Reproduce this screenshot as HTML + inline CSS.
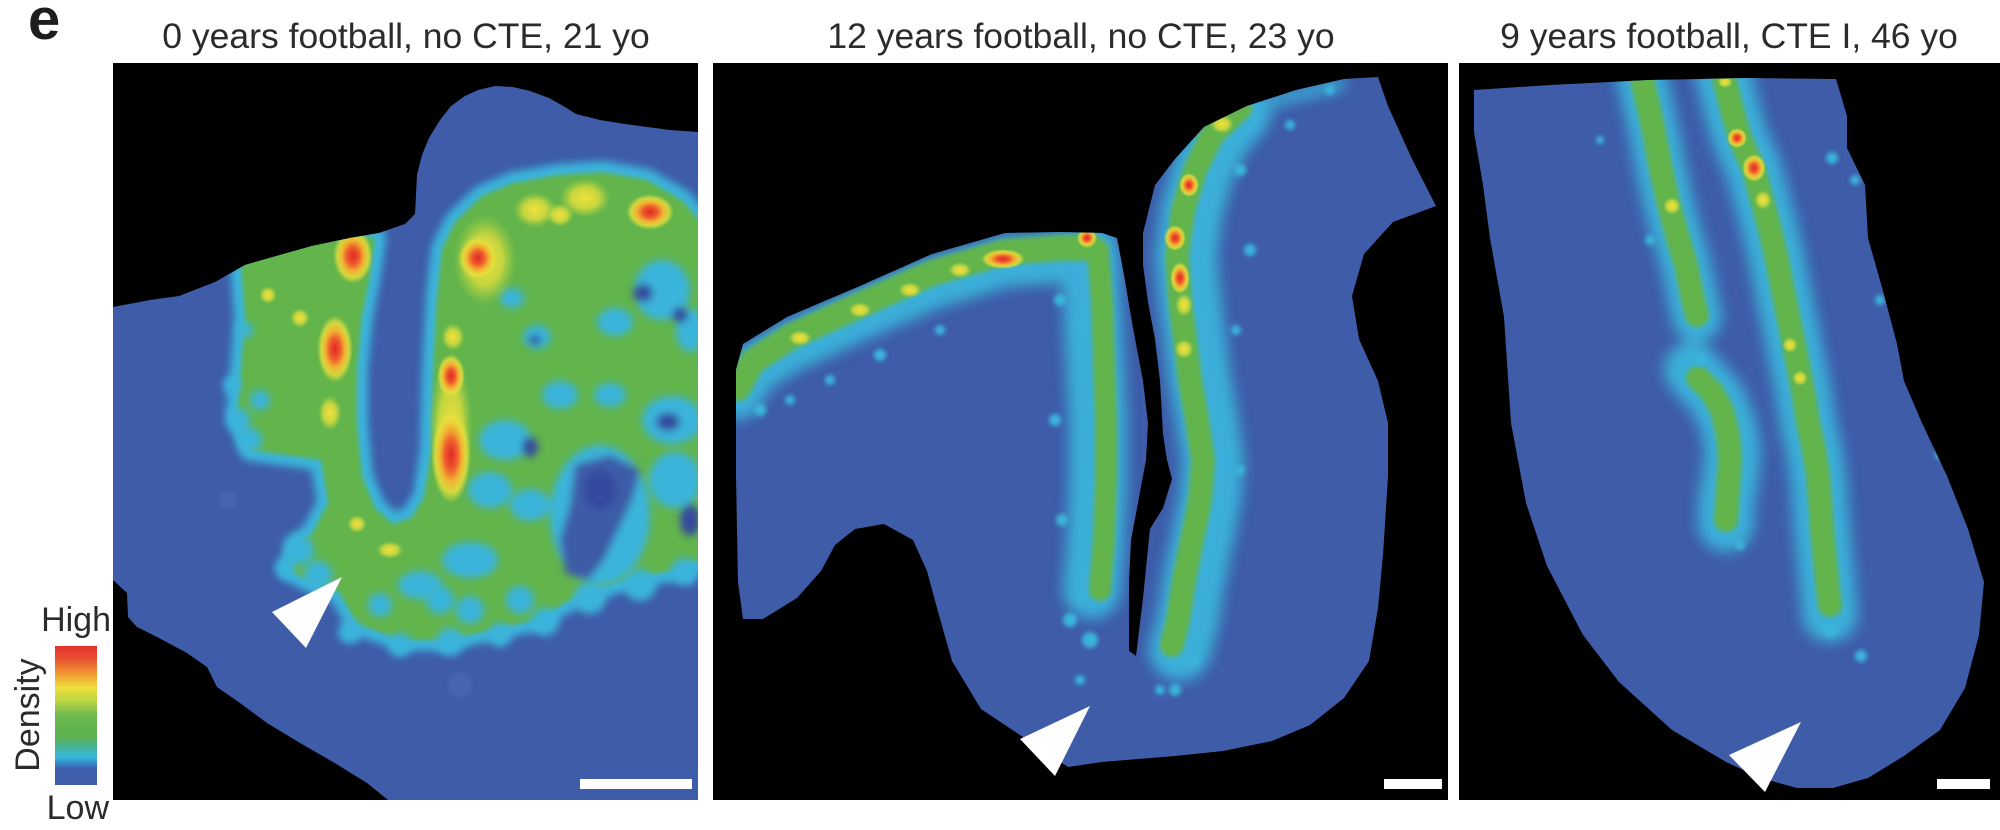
<!DOCTYPE html>
<html>
<head>
<meta charset="utf-8">
<style>
html,body{margin:0;padding:0;background:#fff;}
svg{display:block;}
text{font-family:"Liberation Sans",Arial,sans-serif;fill:#2b2b2b;}
</style>
</head>
<body>
<svg width="2000" height="830" viewBox="0 0 2000 830" xmlns="http://www.w3.org/2000/svg">
<defs>
  <filter id="b2" x="-20%" y="-20%" width="140%" height="140%"><feGaussianBlur stdDeviation="2"/></filter>
  <filter id="b4" x="-20%" y="-20%" width="140%" height="140%"><feGaussianBlur stdDeviation="4"/></filter>
  <filter id="b7" x="-20%" y="-20%" width="140%" height="140%"><feGaussianBlur stdDeviation="7"/></filter>
  <radialGradient id="hot">
    <stop offset="0" stop-color="#e02a26"/>
    <stop offset="0.3" stop-color="#ee5a2c"/>
    <stop offset="0.55" stop-color="#f2b232"/>
    <stop offset="0.78" stop-color="#e9e03c" stop-opacity="0.8"/>
    <stop offset="1" stop-color="#c8dc40" stop-opacity="0"/>
  </radialGradient>
  <radialGradient id="warm">
    <stop offset="0" stop-color="#f2e23a"/>
    <stop offset="0.55" stop-color="#e6e03c" stop-opacity="0.75"/>
    <stop offset="1" stop-color="#a8d444" stop-opacity="0"/>
  </radialGradient>
  <linearGradient id="cbar" x1="0" y1="0" x2="0" y2="1">
    <stop offset="0" stop-color="#e4302a"/>
    <stop offset="0.1" stop-color="#ea5530"/>
    <stop offset="0.2" stop-color="#f09a34"/>
    <stop offset="0.3" stop-color="#f0e03a"/>
    <stop offset="0.4" stop-color="#b8d444"/>
    <stop offset="0.5" stop-color="#6cb84c"/>
    <stop offset="0.65" stop-color="#5cb04e"/>
    <stop offset="0.8" stop-color="#34b8e0"/>
    <stop offset="0.88" stop-color="#3e62b0"/>
    <stop offset="1" stop-color="#3e5ca8"/>
  </linearGradient>

  <path id="t1" d="M113,307 L150,300 L179,296 L215,282 L245,265 L280,255 L312,246 L350,238 L379,233 L405,224 L415,214 L416,195 L417,175 L422,155 L429,138 L440,120 L451,106 L465,96 L478,90 L495,86 L513,87 L530,91 L549,98 L565,107 L576,114 L600,120 L625,124 L670,130 L698,132 L698,800 L388,800 L367,783 L333,762 L300,743 L267,723 L240,703 L217,687 L207,667 L187,653 L157,637 L137,627 L128,617 L127,593 L113,580 Z"/>
  <path id="t2" d="M736,370 L743,344 L787,317 L860,286 L932,254 L1005,233 L1060,232 L1102,233 L1117,238 L1124,275 L1133,328 L1143,381 L1148,423 L1146,460 L1138,503 L1131,540 L1129,582 L1129,651 L1136,656 L1143,598 L1150,529 L1163,508 L1172,479 L1167,460 L1163,434 L1160,381 L1155,339 L1148,302 L1143,265 L1143,233 L1155,185 L1175,159 L1204,127 L1247,106 L1296,90 L1344,79 L1378,77 L1388,106 L1412,159 L1436,206 L1393,222 L1364,254 L1352,296 L1359,339 L1378,381 L1388,423 L1388,476 L1383,555 L1378,608 L1369,661 L1344,698 L1310,725 L1272,741 L1223,751 L1175,756 L1102,762 L1068,767 L1029,741 L981,709 L952,661 L937,608 L927,571 L913,540 L884,524 L855,529 L835,545 L821,571 L797,598 L763,619 L743,619 L738,582 L736,476 Z"/>
  <path id="t3" d="M1474,90 L1550,85 L1650,80 L1750,78 L1836,79 L1847,116 L1847,148 L1865,185 L1868,238 L1883,291 L1897,344 L1904,381 L1922,423 L1947,476 L1968,529 L1984,582 L1979,635 L1965,688 L1940,730 L1904,756 L1868,778 L1833,788 L1797,788 L1761,778 L1726,762 L1672,730 L1619,682 L1583,635 L1547,566 L1526,503 L1511,423 L1504,317 L1490,238 L1483,185 L1474,132 Z"/>
  <path id="g1" d="M241,265 L268,254 L312,241 L348,235 L375,238 L370,275 L362,317 L357,370 L357,423 L362,476 L375,508 L393,524 L411,518 L424,497 L431,450 L433,370 L437,296 L442,249 L455,222 L482,196 L513,183 L558,175 L603,172 L647,180 L683,201 L700,222 L700,561 L670,571 L625,580 L580,594 L536,620 L491,630 L446,640 L402,640 L357,624 L339,592 L312,582 L290,571 L295,545 L312,534 L328,503 L321,460 L250,450 L237,413 L241,370 L245,317 Z"/>
  <clipPath id="c1"><use href="#t1"/></clipPath>
  <clipPath id="c2"><use href="#t2"/></clipPath>
  <clipPath id="c3"><use href="#t3"/></clipPath>
</defs>

<rect width="2000" height="830" fill="#fff"/>

<!-- labels -->
<text x="28" y="39" font-size="58" font-weight="bold" style="fill:#1e1e1e">e</text>
<text x="406" y="48" font-size="35.5" text-anchor="middle">0 years football, no CTE, 21 yo</text>
<text x="1081" y="48" font-size="35.5" text-anchor="middle">12 years football, no CTE, 23 yo</text>
<text x="1729" y="48" font-size="35.5" text-anchor="middle">9 years football, CTE I, 46 yo</text>

<!-- colorbar -->
<text x="111" y="631" font-size="34" text-anchor="end">High</text>
<text x="109" y="819" font-size="34" text-anchor="end">Low</text>
<text transform="translate(39,715) rotate(-90)" font-size="34" text-anchor="middle">Density</text>
<rect x="55" y="646" width="42" height="139" fill="url(#cbar)"/>

<!-- ============ PANEL 1 ============ -->
<rect x="113" y="63" width="585" height="737" fill="#000"/>
<use href="#t1" fill="#3e5ca8"/>
<g clip-path="url(#c1)">
  <use href="#g1" fill="#3ab4dc" stroke="#3ab4dc" stroke-width="22" stroke-linejoin="round" filter="url(#b4)"/>
  <use href="#g1" fill="#62b44c" filter="url(#b2)"/>
  <!-- cyan blobs at edges -->
  <g filter="url(#b4)" fill="#3ab4dc">
    <circle cx="238" cy="420" r="12"/><circle cx="250" cy="440" r="12"/><circle cx="232" cy="385" r="9"/>
    <circle cx="245" cy="330" r="8"/><circle cx="260" cy="400" r="10"/>
    <circle cx="300" cy="550" r="14"/><circle cx="318" cy="575" r="14"/><circle cx="285" cy="568" r="10"/>
    <circle cx="350" cy="632" r="12"/><circle cx="400" cy="645" r="12"/><circle cx="450" cy="642" r="14"/>
    <circle cx="500" cy="635" r="12"/><circle cx="545" cy="622" r="14"/><circle cx="590" cy="598" r="16"/>
    <circle cx="640" cy="585" r="16"/><circle cx="685" cy="572" r="14"/>
    <circle cx="440" cy="600" r="14"/><circle cx="470" cy="610" r="14"/><circle cx="520" cy="600" r="14"/>
    <circle cx="380" cy="605" r="12"/>
  </g>
  <!-- inner cyan / dark patches in right region -->
  <g filter="url(#b4)">
    <ellipse cx="512" cy="298" rx="12" ry="10" fill="#3ab4dc"/>
    <ellipse cx="537" cy="337" rx="14" ry="12" fill="#3ab4dc"/>
    <ellipse cx="615" cy="322" rx="18" ry="14" fill="#3ab4dc"/>
    <ellipse cx="662" cy="290" rx="28" ry="30" fill="#3ab4dc"/>
    <ellipse cx="690" cy="330" rx="14" ry="22" fill="#3ab4dc"/>
    <ellipse cx="505" cy="440" rx="26" ry="20" fill="#3ab4dc"/>
    <ellipse cx="490" cy="490" rx="22" ry="18" fill="#3ab4dc"/>
    <ellipse cx="530" cy="505" rx="20" ry="16" fill="#3ab4dc"/>
    <ellipse cx="560" cy="395" rx="18" ry="14" fill="#3ab4dc"/>
    <ellipse cx="610" cy="395" rx="16" ry="12" fill="#3ab4dc"/>
    <ellipse cx="672" cy="420" rx="30" ry="24" fill="#3ab4dc"/>
    <ellipse cx="675" cy="480" rx="26" ry="28" fill="#3ab4dc"/>
    <ellipse cx="600" cy="515" rx="50" ry="70" fill="#3ab4dc"/>
    <ellipse cx="470" cy="560" rx="28" ry="18" fill="#3ab4dc"/>
    <ellipse cx="420" cy="585" rx="22" ry="14" fill="#3ab4dc"/>
    <path d="M575,465 L610,455 L640,470 L632,500 L618,530 L604,560 L588,580 L566,574 L560,540 L570,505 Z" fill="#3e5ca8"/>
    <ellipse cx="600" cy="490" rx="16" ry="20" fill="#34489e"/>
    <ellipse cx="643" cy="293" rx="10" ry="9" fill="#34489e"/>
    <ellipse cx="680" cy="315" rx="8" ry="8" fill="#34489e"/>
    <ellipse cx="668" cy="422" rx="12" ry="9" fill="#34489e"/>
    <ellipse cx="530" cy="447" rx="8" ry="10" fill="#34489e"/>
    <ellipse cx="690" cy="520" rx="10" ry="16" fill="#34489e"/>
    <ellipse cx="535" cy="340" rx="6" ry="5" fill="#34489e"/>
  </g>
  <!-- hotspots -->
  <ellipse cx="353" cy="256" rx="20" ry="28" fill="url(#hot)"/>
  <ellipse cx="335" cy="349" rx="18" ry="34" fill="url(#hot)"/>
  <ellipse cx="330" cy="413" rx="12" ry="18" fill="url(#warm)"/>
  <ellipse cx="451" cy="430" rx="22" ry="75" fill="url(#warm)"/>
  <ellipse cx="451" cy="376" rx="14" ry="22" fill="url(#hot)"/>
  <ellipse cx="451" cy="455" rx="20" ry="48" fill="url(#hot)"/>
  <ellipse cx="485" cy="260" rx="32" ry="46" fill="url(#warm)"/>
  <ellipse cx="478" cy="258" rx="20" ry="22" fill="url(#hot)"/>
  <ellipse cx="535" cy="210" rx="22" ry="18" fill="url(#warm)"/>
  <ellipse cx="585" cy="198" rx="26" ry="20" fill="url(#warm)"/>
  <ellipse cx="560" cy="215" rx="14" ry="12" fill="url(#warm)"/>
  <ellipse cx="650" cy="212" rx="24" ry="18" fill="url(#hot)"/>
  <ellipse cx="453" cy="337" rx="12" ry="14" fill="url(#warm)"/>
  <ellipse cx="357" cy="524" rx="10" ry="9" fill="url(#warm)"/>
  <ellipse cx="300" cy="318" rx="10" ry="10" fill="url(#warm)"/>
  <ellipse cx="268" cy="295" rx="9" ry="9" fill="url(#warm)"/>
  <ellipse cx="390" cy="550" rx="14" ry="9" fill="url(#warm)"/>
  <circle cx="460" cy="685" r="12" fill="#4666b0" filter="url(#b2)"/>
  <circle cx="228" cy="500" r="9" fill="#4666b0" filter="url(#b2)"/>
</g>
<polygon points="272,612 342,577 306,648" fill="#fff"/>
<rect x="580" y="779" width="112" height="10" fill="#fff"/>

<!-- ============ PANEL 2 ============ -->
<rect x="713" y="63" width="735" height="737" fill="#000"/>
<use href="#t2" fill="#3e5ca8"/>
<g clip-path="url(#c2)" fill="none" stroke-linecap="round" stroke-linejoin="round">
  <g stroke="#3ab4dc" filter="url(#b7)" opacity="0.95">
    <polyline points="738,395 752,370 790,347 860,315 932,284 1005,262 1060,258 1092,258" stroke-width="50"/>
    <polyline points="1090,252 1092,300 1095,360 1098,420 1098,480 1096,540 1092,590" stroke-width="58"/>
    <polyline points="1240,112 1220,135 1203,170 1192,210 1186,255 1190,300 1195,340 1200,380 1207,420 1213,460 1210,500 1202,540 1194,580 1188,620 1180,650" stroke-width="62"/>
    <polyline points="1260,104 1300,94 1340,84" stroke-width="12"/>
  </g>
  <g stroke="#62b44c" filter="url(#b2)">
    <polyline points="738,388 752,362 790,337 860,305 932,273 1005,252 1060,248 1092,248" stroke-width="26"/>
    <polyline points="1098,250 1102,300 1104,360 1106,420 1106,480 1104,540 1100,590" stroke-width="22"/>
    <polyline points="1240,108 1212,135 1195,170 1183,210 1177,255 1180,300 1185,340 1190,380 1197,420 1203,460 1200,500 1192,540 1184,580 1178,620 1172,645" stroke-width="24"/>
  </g>
</g>
<g clip-path="url(#c2)">
  <g fill="#3ab4dc" filter="url(#b2)">
    <circle cx="760" cy="410" r="6"/><circle cx="790" cy="400" r="5"/><circle cx="830" cy="380" r="5"/>
    <circle cx="880" cy="355" r="6"/><circle cx="940" cy="330" r="5"/><circle cx="1060" cy="300" r="6"/>
    <circle cx="1055" cy="420" r="6"/><circle cx="1062" cy="520" r="6"/><circle cx="1070" cy="620" r="7"/>
    <circle cx="1090" cy="640" r="8"/><circle cx="1080" cy="680" r="5"/>
    <circle cx="1240" cy="170" r="6"/><circle cx="1250" cy="250" r="6"/><circle cx="1236" cy="330" r="5"/>
    <circle cx="1240" cy="470" r="5"/><circle cx="1175" cy="690" r="6"/><circle cx="1195" cy="660" r="5"/>
    <circle cx="1160" cy="690" r="5"/><circle cx="1330" cy="90" r="5"/><circle cx="1290" cy="125" r="5"/>
  </g>
  <ellipse cx="1087" cy="238" rx="10" ry="10" fill="url(#hot)"/>
  <ellipse cx="1003" cy="259" rx="22" ry="10" fill="url(#hot)"/>
  <ellipse cx="960" cy="270" rx="12" ry="8" fill="url(#warm)"/>
  <ellipse cx="910" cy="290" rx="12" ry="8" fill="url(#warm)"/>
  <ellipse cx="860" cy="310" rx="12" ry="8" fill="url(#warm)"/>
  <ellipse cx="800" cy="338" rx="12" ry="8" fill="url(#warm)"/>
  <ellipse cx="1175" cy="238" rx="11" ry="13" fill="url(#hot)"/>
  <ellipse cx="1189" cy="185" rx="10" ry="12" fill="url(#hot)"/>
  <ellipse cx="1222" cy="124" rx="12" ry="10" fill="url(#warm)"/>
  <ellipse cx="1180" cy="278" rx="10" ry="16" fill="url(#hot)"/>
  <ellipse cx="1184" cy="305" rx="9" ry="12" fill="url(#warm)"/>
  <ellipse cx="1184" cy="349" rx="10" ry="10" fill="url(#warm)"/>
</g>
<polygon points="1020,739 1090,706 1055,776" fill="#fff"/>
<rect x="1384" y="779" width="58" height="10" fill="#fff"/>

<!-- ============ PANEL 3 ============ -->
<rect x="1459" y="63" width="541" height="737" fill="#000"/>
<use href="#t3" fill="#3e5ca8"/>
<g clip-path="url(#c3)" fill="none" stroke-linecap="round" stroke-linejoin="round">
  <g stroke="#3ab4dc" filter="url(#b7)" opacity="0.95">
    <polyline points="1640,70 1648,105 1654,132 1660,165 1668,201 1677,235 1686,265 1692,295 1697,317" stroke-width="50"/>
    <polyline points="1692,370 1705,385 1718,400 1728,425 1733,450 1730,480 1726,503 1726,524" stroke-width="56"/>
    <polyline points="1722,70 1732,110 1740,138 1754,170 1768,222 1776,255 1783,291 1790,325 1797,360 1803,390 1808,423 1814,450 1818,476 1820,500 1822,529 1825,560 1828,590 1830,614" stroke-width="56"/>
  </g>
  <g stroke="#62b44c" filter="url(#b2)">
    <polyline points="1640,70 1648,105 1654,132 1660,165 1668,201 1677,235 1686,265 1692,295 1697,315" stroke-width="24"/>
    <polyline points="1698,378 1712,392 1722,410 1728,435 1730,460 1728,490 1726,520" stroke-width="24"/>
    <polyline points="1722,70 1732,110 1740,138 1754,170 1768,222 1776,255 1783,291 1790,325 1797,360 1803,390 1808,423 1814,450 1818,476 1820,500 1822,529 1825,560 1828,590 1830,605" stroke-width="24"/>
  </g>
</g>
<g clip-path="url(#c3)">
  <g fill="#3ab4dc" filter="url(#b2)">
    <circle cx="1861" cy="656" r="6"/><circle cx="1830" cy="630" r="7"/><circle cx="1740" cy="545" r="5"/>
    <circle cx="1832" cy="158" r="6"/><circle cx="1855" cy="180" r="5"/><circle cx="1880" cy="300" r="5"/>
    <circle cx="1650" cy="240" r="5"/><circle cx="1700" cy="360" r="6"/><circle cx="1600" cy="140" r="4"/>
    <circle cx="1940" cy="455" r="5"/>
  </g>
  <ellipse cx="1754" cy="168" rx="12" ry="14" fill="url(#hot)"/>
  <ellipse cx="1737" cy="138" rx="10" ry="10" fill="url(#hot)"/>
  <ellipse cx="1763" cy="200" rx="9" ry="10" fill="url(#warm)"/>
  <ellipse cx="1672" cy="206" rx="9" ry="9" fill="url(#warm)"/>
  <ellipse cx="1790" cy="345" rx="8" ry="8" fill="url(#warm)"/>
  <ellipse cx="1800" cy="378" rx="8" ry="8" fill="url(#warm)"/>
  <ellipse cx="1725" cy="82" rx="8" ry="6" fill="url(#warm)"/>
</g>
<polygon points="1729,755 1801,722 1765,792" fill="#fff"/>
<rect x="1937" y="779" width="53" height="10" fill="#fff"/>
</svg>
</body>
</html>
